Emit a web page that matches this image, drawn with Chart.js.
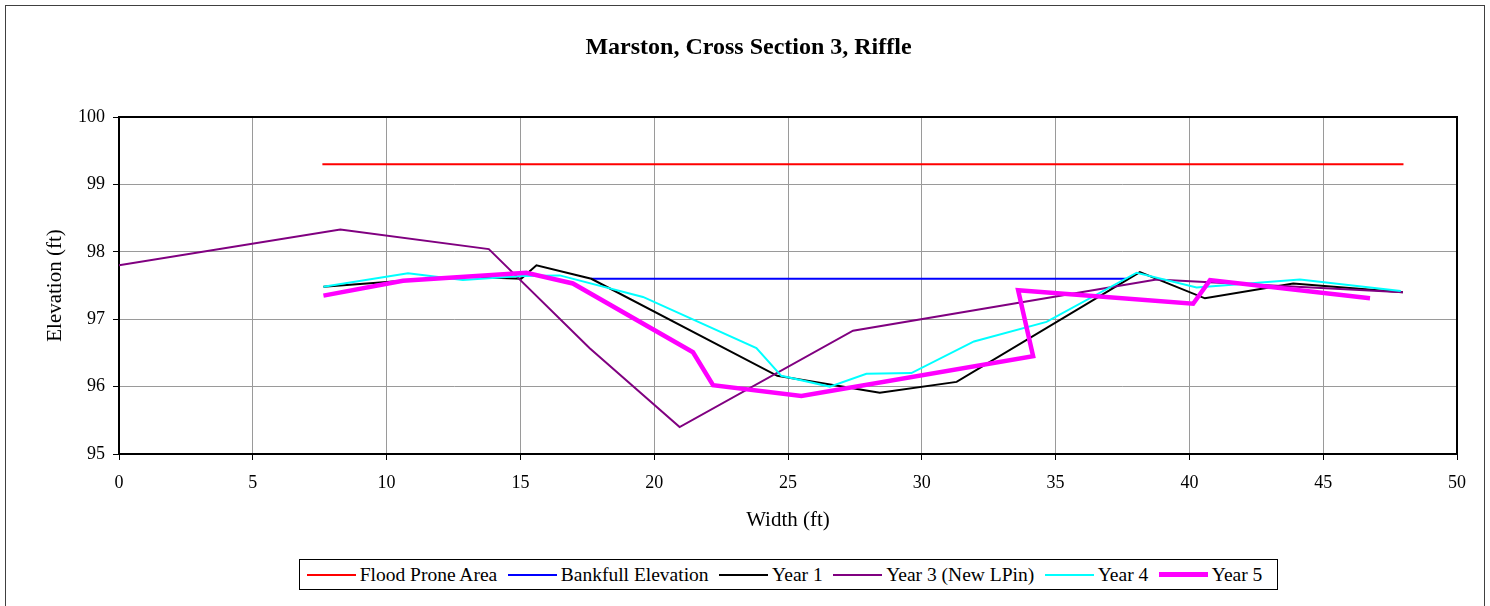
<!DOCTYPE html>
<html>
<head>
<meta charset="utf-8">
<title>Marston, Cross Section 3, Riffle</title>
<script src="https://cdn.jsdelivr.net/npm/chart.js@4/dist/chart.umd.min.js"></script>
<style>
  html, body { margin: 0; padding: 0; background: #fff; }
  #wrap { position: relative; width: 1490px; height: 606px; overflow: hidden; }
  #chart { position: absolute; left: 0; top: 0; }
  #legend {
    position: absolute; left: 299px; top: 559px; width: 979px; height: 31px;
    box-sizing: border-box; border: 1px solid #000; background: #fff;
    display: flex; align-items: center; padding-left: 6.7px;
    font-family: "Liberation Serif", "Times New Roman", serif; font-size: 19.5px; color: #000;
  }
  #legend .item { display: flex; align-items: center; margin-right: 10.5px; white-space: nowrap; }
  #legend .swatch { width: 49px; margin-right: 4px; }
</style>
</head>
<body>
<div id="wrap">
  <canvas id="chart" width="1490" height="606"></canvas>
  <div id="legend"></div>
</div>
<script>
// Survey stations (ft across the section) and elevations (ft)
const floodProneX = [7.6, 48.0];
const floodProneY = [99.3, 99.3];

const bankfullX = [17.65, 37.65];
const bankfullY = [97.6, 97.6];

const year1X = [7.64, 11.0, 13.0, 15.03, 15.6, 17.65, 24.6, 28.43, 31.3, 38.15, 40.58, 43.88, 47.98];
const year1Y = [97.48, 97.58, 97.63, 97.60, 97.80, 97.60, 96.16, 95.91, 96.07, 97.70, 97.31, 97.53, 97.40];

const year3X = [0, 8.27, 13.82, 17.59, 20.95, 27.43, 38.77, 47.98];
const year3Y = [97.80, 98.33, 98.04, 96.57, 95.40, 96.83, 97.59, 97.40];

const year4X = [7.64, 10.8, 12.85, 15.04, 16.47, 19.58, 23.82, 24.75, 26.56, 27.93, 29.61, 31.95, 34.66, 38.03, 40.27, 44.13, 47.9];
const year4Y = [97.48, 97.68, 97.58, 97.64, 97.65, 97.33, 96.57, 96.16, 96.00, 96.19, 96.20, 96.67, 96.96, 97.69, 97.47, 97.59, 97.42];

const year5X = [7.64, 10.61, 15.22, 16.96, 21.45, 22.2, 25.5, 34.16, 33.6, 40.14, 40.77, 46.75];
const year5Y = [97.35, 97.57, 97.69, 97.53, 96.51, 96.02, 95.86, 96.45, 97.43, 97.23, 97.58, 97.31];

const seriesNames = ["Flood Prone Area", "Bankfull Elevation", "Year 1", "Year 3 (New LPin)", "Year 4", "Year 5"];
const seriesColors = ["#ff0000", "#0000ff", "#000000", "#800080", "#00ffff", "#ff00ff"];
const seriesWidths = [2, 2, 2, 2, 2, 4.5];
const seriesX = [floodProneX, bankfullX, year1X, year3X, year4X, year5X];
const seriesY = [floodProneY, bankfullY, year1Y, year3Y, year4Y, year5Y];

const FONT = "'Liberation Serif', 'Times New Roman', serif";

const datasets = seriesNames.map((name, i) => ({
  label: name,
  data: seriesX[i].map((x, j) => ({ x: x, y: seriesY[i][j] })),
  borderColor: seriesColors[i],
  backgroundColor: seriesColors[i],
  borderWidth: seriesWidths[i],
  pointRadius: 0,
  tension: 0,
  fill: false,
  order: seriesNames.length - i
}));

// Outer chart frame and the black box around the plot area
const framePlugin = {
  id: 'frame',
  beforeDraw(chart) {
    const ctx = chart.ctx;
    ctx.save();
    ctx.fillStyle = '#fff';
    ctx.fillRect(0, 0, chart.width, chart.height);
    ctx.strokeStyle = '#404040';
    ctx.lineWidth = 1;
    ctx.strokeRect(5.5, 5.5, 1479, chart.height + 20);
    ctx.restore();
  },
  beforeDatasetsDraw(chart) {
    const { left, top, right, bottom } = chart.chartArea;
    const ctx = chart.ctx;
    ctx.save();
    ctx.strokeStyle = '#000';
    ctx.lineWidth = 2;
    ctx.strokeRect(left, top, right - left, bottom - top);
    ctx.restore();
  }
};

new Chart(document.getElementById('chart'), {
  type: 'line',
  data: { datasets: datasets },
  plugins: [framePlugin],
  options: {
    responsive: false,
    animation: false,
    devicePixelRatio: 1,
    layout: { padding: { left: 40, right: 33, top: 0, bottom: 62 } },
    plugins: {
      legend: { display: false },
      tooltip: { enabled: false },
      title: {
        display: true,
        text: 'Marston, Cross Section 3, Riffle',
        color: '#000',
        font: { family: FONT, size: 24, weight: 'bold' },
        padding: { top: 33.6, bottom: 54.6 }
      }
    },
    scales: {
      x: {
        type: 'linear',
        position: 'bottom',
        min: 0,
        max: 50,
        ticks: { stepSize: 5, padding: 12, color: '#000', font: { family: FONT, size: 18 } },
        grid: { color: '#9a9a9a', lineWidth: 1, tickLength: 6, tickColor: '#000' },
        border: { color: '#000', width: 2 },
        title: {
          display: true,
          text: 'Width (ft)',
          color: '#000',
          font: { family: FONT, size: 21 },
          padding: { top: 4, bottom: 11.4 }
        },
        afterFit(scale) { scale.height = 90; }
      },
      y: {
        type: 'linear',
        position: 'left',
        min: 95,
        max: 100,
        ticks: { stepSize: 1, padding: 8, color: '#000', font: { family: FONT, size: 18 } },
        grid: { color: '#9a9a9a', lineWidth: 1, tickLength: 6, tickColor: '#000' },
        border: { color: '#000', width: 2 },
        title: {
          display: true,
          text: 'Elevation (ft)',
          color: '#000',
          font: { family: FONT, size: 21 },
          padding: { top: 2.4, bottom: 4 }
        },
        afterFit(scale) { scale.width = 79; }
      }
    }
  }
});

// Legend built from the same series definitions
const legendEl = document.getElementById('legend');
seriesNames.forEach((name, i) => {
  const item = document.createElement('div');
  item.className = 'item';
  const sw = document.createElement('div');
  sw.className = 'swatch';
  sw.style.borderTop = (i === seriesNames.length - 1 ? 5 : 2) + 'px solid ' + seriesColors[i];
  const label = document.createElement('span');
  label.textContent = name;
  item.appendChild(sw);
  item.appendChild(label);
  legendEl.appendChild(item);
});
</script>
</body>
</html>
